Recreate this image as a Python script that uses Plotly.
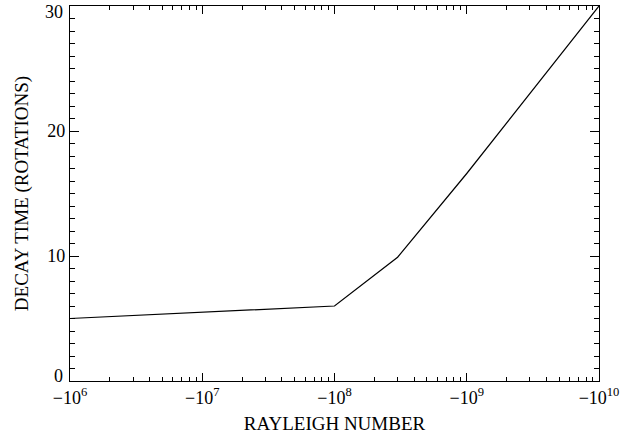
import plotly.graph_objects as go

# Data (Rayleigh numbers are negative; plotted by magnitude on a log axis)
rayleigh_magnitude = [1e6, 1e8, 3e8, 1e9, 1e10]
decay_time = [5.0, 6.0, 9.9, 16.6, 30.0]

x_tick_vals = [1e6, 1e7, 1e8, 1e9, 1e10]
x_tick_text = ["\u221210<sup>6</sup>", "\u221210<sup>7</sup>", "\u221210<sup>8</sup>",
               "\u221210<sup>9</sup>", "\u221210<sup>10</sup>"]
y_tick_vals = [0, 10, 20, 30]
y_tick_text = ["0", "10", "20", "30"]

x_minor_vals = [m * 10 ** e for e in range(6, 10) for m in range(2, 10)]

FONT = "Liberation Serif"

fig = go.Figure()
fig.add_trace(go.Scatter(
    x=rayleigh_magnitude, y=decay_time, mode="lines",
    line=dict(color="black", width=1.2), showlegend=False,
))

# End labels (0, 30) nudged inward like the reference; inner labels via the axis
y_lo, y_hi = min(y_tick_vals), max(y_tick_vals)
for v, t in zip(y_tick_vals, y_tick_text):
    if v == y_lo:
        shift = 5
    elif v == y_hi:
        shift = -6
    else:
        continue
    fig.add_annotation(x=0, xref="paper", y=v, yref="y", text=t, showarrow=False,
                       xanchor="right", yanchor="middle", xshift=-5, yshift=shift,
                       font=dict(family=FONT, size=18, color="black"))

fig.update_layout(
    width=624, height=436,
    margin=dict(l=70, r=25, t=6, b=55),
    paper_bgcolor="white", plot_bgcolor="white",
    font=dict(family=FONT, size=17, color="black"),
    xaxis=dict(
        type="log", range=[6, 10], automargin=False,
        tickmode="array", tickvals=x_tick_vals, ticktext=x_tick_text,
        ticks="inside", ticklen=8, tickwidth=1, tickcolor="black",
        showline=True, linecolor="black", linewidth=1.2, mirror="ticks",
        showgrid=False, zeroline=False, ticklabeloverflow="allow",
        minor=dict(tickmode="array", tickvals=x_minor_vals, ticks="inside",
                   ticklen=4, tickwidth=1, tickcolor="black", showgrid=False),
        title=dict(text="RAYLEIGH NUMBER", font=dict(family=FONT, size=19), standoff=9),
        tickfont=dict(family=FONT, size=18),
    ),
    yaxis=dict(
        range=[y_lo, y_hi], automargin=False,
        tickmode="array", tickvals=y_tick_vals,
        ticktext=["" if v in (y_lo, y_hi) else t for v, t in zip(y_tick_vals, y_tick_text)],
        ticks="inside", ticklen=9, tickwidth=1, tickcolor="black",
        showline=True, linecolor="black", linewidth=1.2, mirror="ticks",
        showgrid=False, zeroline=False, ticklabeloverflow="allow",
        minor=dict(dtick=1, ticks="inside", ticklen=5, tickwidth=1,
                   tickcolor="black", showgrid=False),
        title=dict(text="DECAY TIME (ROTATIONS)", font=dict(family=FONT, size=19), standoff=13),
        tickfont=dict(family=FONT, size=18),
    ),
)

fig.write_html("out.html", config={"displayModeBar": False},
               post_script="document.body.style.margin='0';")
